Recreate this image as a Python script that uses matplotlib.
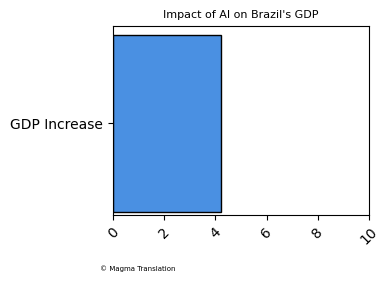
import matplotlib.pyplot as plt

# Data
categories = ['GDP Increase']
values = [4.2]
xticks = [0, 2, 4, 6, 8, 10]

fig = plt.figure(figsize=(3.9, 2.82), dpi=100)
ax = fig.add_axes([113 / 390, 1 - 215 / 282, 256 / 390, 189 / 282])

ax.barh(categories, values, height=0.8, color='#4a90e2', edgecolor='black', linewidth=1)
ax.set_xlim(0, 10)
ax.set_ylim(-0.415, 0.44)
ax.set_xticks(xticks)
ax.set_xticklabels([str(t) for t in xticks], rotation=45, fontsize=10)
ax.tick_params(axis='y', labelsize=10)
ax.set_title("Impact of AI on Brazil's GDP", fontsize=8)

# footer note
fig.text(100 / 390, 0.04, '© Magma Translation', fontsize=5)

fig.savefig('out.png', dpi=100)
